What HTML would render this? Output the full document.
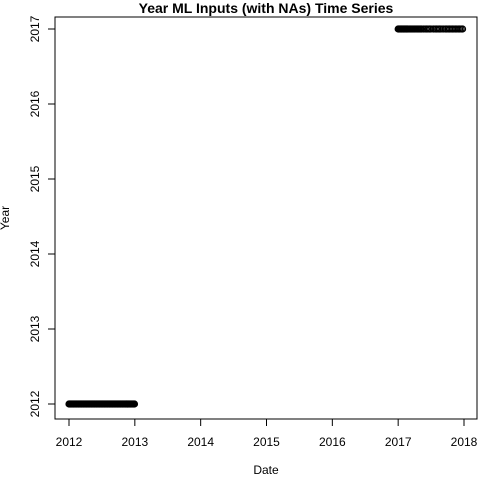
<!DOCTYPE html>
<html><head><meta charset="utf-8"><style>
html,body{margin:0;padding:0;background:#fff}
svg{display:block;font-family:"Liberation Sans",sans-serif}
</style></head><body>
<svg id="chart" width="480" height="480">
<text x="266" y="13" text-anchor="middle" font-size="14" font-weight="bold">Year ML Inputs (with NAs) Time Series</text>
<rect x="55" y="17" width="422" height="402" fill="none" stroke="#000"/>
<g id="xaxis"></g>
<g id="yaxis"></g>
<g id="points"></g>
<text x="266" y="474" text-anchor="middle" font-size="12">Date</text>
<text transform="translate(9,218) rotate(-90)" text-anchor="middle" font-size="12">Year</text>
</svg>
<script>
const xTicks = [2012, 2013, 2014, 2015, 2016, 2017, 2018];
const yTicks = [2012, 2013, 2014, 2015, 2016, 2017];
// day-of-year offsets of observations
const days2012 = [1,4,8,12,16,20,24,28,32,36,40,44,48,52,56,60,64,68,72,76,80,84,88,92,96,100,104,108,112,116,120,124,128,132,136,140,144,148,152,156,160,164,168,172,176,180,184,188,192,196,200,204,208,212,216,220,224,228,232,236,240,244,248,252,256,260,264,268,272,276,280,284,288,292,296,300,304,308,312,316,320,324,328,332,336,340,344,348,352,356,360,364];
const vals2012 = days2012.map(()=>2012);
const days2017 = [1,5,9,13,17,21,25,29,33,37,41,45,49,53,57,64,70,76,82,88,94,100,106,112,118,124,130,140,150,158,166,174,182,196,206,214,222,230,238,250,262,270,278,286,294,302,310,318,326,334,342,350,358];
const vals2017 = days2017.map(()=>2017);
const NS='http://www.w3.org/2000/svg';
const x = d => 69 + (d - 2012) * (464 - 69) / 6;
const y = v => 404 - (v - 2012) * 75;
function mk(tag, attrs, parent){const e=document.createElementNS(NS,tag);for(const k in attrs)e.setAttribute(k,attrs[k]);parent.appendChild(e);return e;}
const xa=document.getElementById('xaxis'), ya=document.getElementById('yaxis'), pg=document.getElementById('points');
mk('line',{x1:x(xTicks[0]),x2:x(xTicks[xTicks.length-1]),y1:419,y2:419,stroke:'#000'},xa);
xTicks.forEach(t=>{
  const l=mk('line',{x1:x(t),x2:x(t),y1:419,y2:426,stroke:'#000'},xa);
  
  
  const tx=mk('text',{x:x(t),y:446,'text-anchor':'middle','font-size':12},xa);tx.textContent=t;
  
  
});
mk('line',{x1:55,x2:55,y1:y(yTicks[0]),y2:y(yTicks[yTicks.length-1]),stroke:'#000'},ya);
yTicks.forEach(t=>{
  const l=mk('line',{x1:48,x2:55,y1:y(t),y2:y(t),stroke:'#000'},ya);
  
  
  const tx=mk('text',{transform:`translate(39,${y(t)}) rotate(-90)`,'text-anchor':'middle','font-size':12},ya);tx.textContent=t;
  
  
});
function plot(days, vals, yr){
  days.forEach((d,i)=>{
    const c=mk('circle',{cx:x(yr+(d-1)/365),cy:y(vals[i]),r:3,fill:'none',stroke:'#000','stroke-width':1.2},pg);
    
    
  });
}
plot(days2012, vals2012, 2012);
plot(days2017, vals2017, 2017);
</script>
</body></html>
